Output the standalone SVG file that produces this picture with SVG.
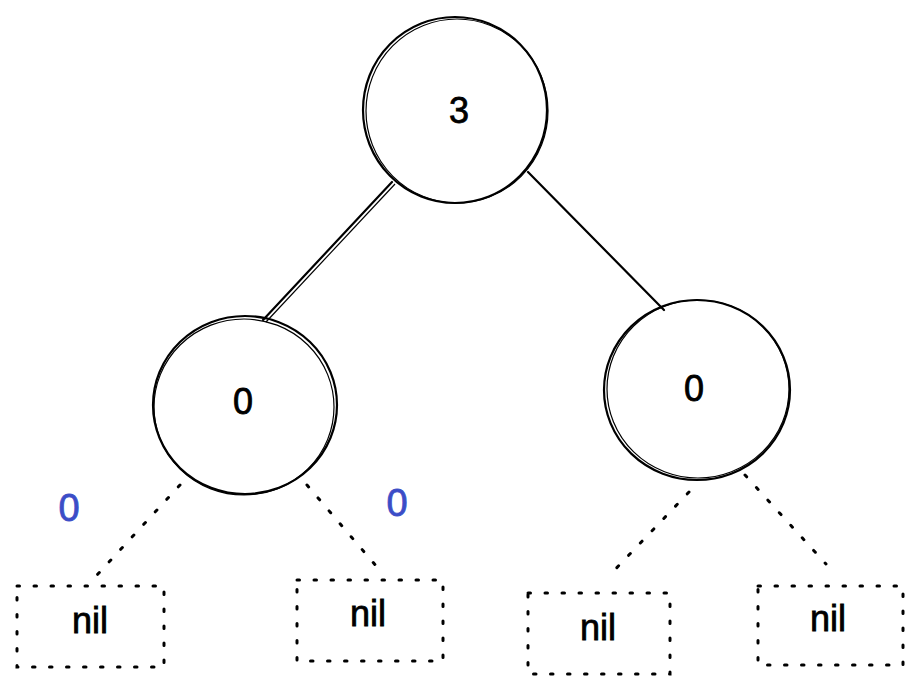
<svg xmlns="http://www.w3.org/2000/svg" width="920" height="692" viewBox="0 0 920 692">
<style>
.c{fill:none;stroke:#000;stroke-width:2.2;}
.c2{fill:none;stroke:#000;stroke-width:1.2;}
.e{fill:none;stroke:#000;stroke-width:2.2;stroke-linecap:round;}
.d{fill:none;stroke:#000;stroke-width:3;stroke-dasharray:2.5 14.5;stroke-linecap:round;}
.t{font-family:"Liberation Sans",Arial,sans-serif;font-size:36px;fill:#000;stroke:#000;stroke-width:0.8;text-anchor:middle;}
.b{font-family:"Liberation Sans",Arial,sans-serif;font-size:38px;fill:#3b4dc7;stroke:#3b4dc7;stroke-width:0.8;text-anchor:middle;}
</style>
<rect width="920" height="692" fill="#fff"/>
<g id="edges">
<line class="e" x1="392" y1="182" x2="263" y2="320"/>
<line class="c2" x1="395" y1="184" x2="266" y2="322"/>
<line class="e" x1="528" y1="172" x2="664" y2="310"/>
<line class="d" x1="180" y1="485" x2="97" y2="575"/>
<line class="d" x1="307" y1="485" x2="377" y2="567"/>
<line class="d" x1="689" y1="492" x2="607" y2="578"/>
<line class="d" x1="745" y1="475" x2="826" y2="564"/>
</g>
<g id="root">
<ellipse class="c" cx="455" cy="110" rx="92" ry="93"/>
<ellipse class="c2" cx="457" cy="111" rx="91" ry="92"/>
<text class="t" x="459" y="123">3</text>
</g>
<g id="left">
<ellipse class="c" cx="245" cy="405" rx="92" ry="89"/>
<ellipse class="c2" cx="244" cy="407" rx="90" ry="88"/>
<text class="t" x="243" y="414">0</text>
</g>
<g id="right">
<ellipse class="c" cx="697" cy="390" rx="93" ry="90"/>
<ellipse class="c2" cx="698" cy="389" rx="91" ry="89"/>
<text class="t" x="694" y="401">0</text>
</g>
<g id="nil1">
<rect class="d" x="17" y="586" width="147" height="81"/>
<text class="t" x="90" y="633">nil</text>
</g>
<g id="nil2">
<rect class="d" x="297" y="580" width="146" height="81"/>
<text class="t" x="368" y="626">nil</text>
</g>
<g id="nil3">
<rect class="d" x="528" y="593" width="142" height="81"/>
<text class="t" x="598" y="640">nil</text>
</g>
<g id="nil4">
<rect class="d" x="758" y="586" width="145" height="79"/>
<text class="t" x="828" y="631">nil</text>
</g>
<g id="labels">
<text class="b" x="69" y="521">0</text>
<text class="b" x="397" y="516">0</text>
</g>
</svg>
